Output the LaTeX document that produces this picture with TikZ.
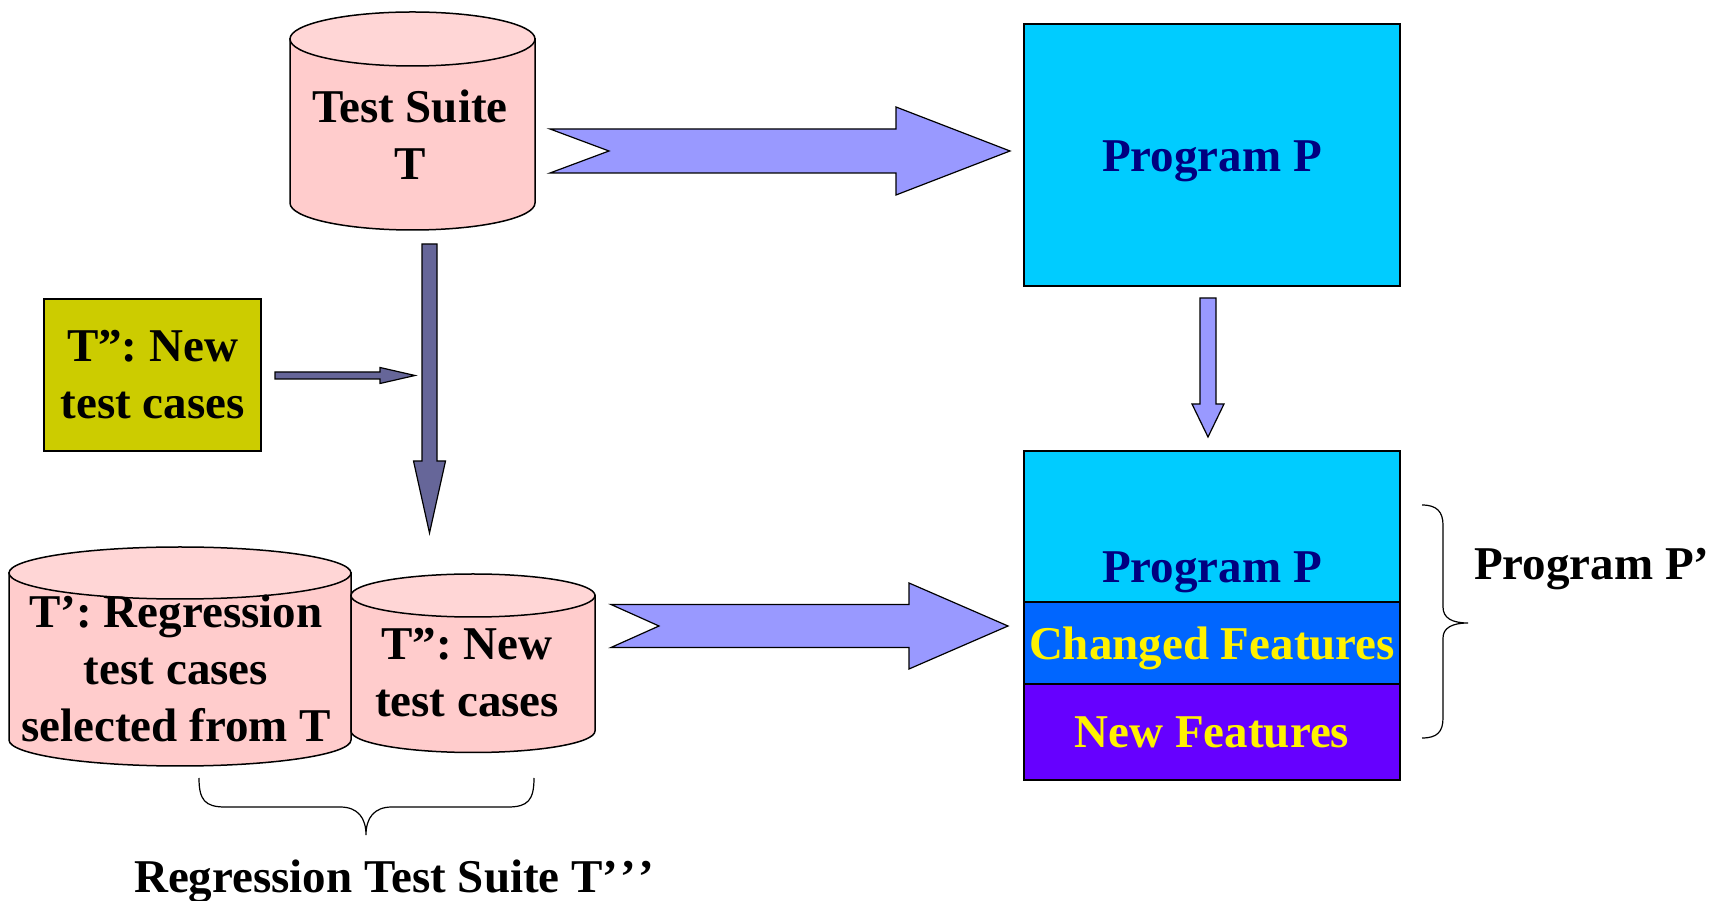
\documentclass[tikz,border=0pt]{standalone}
\usepackage{fontspec}
\setmainfont{Liberation Serif}
\usetikzlibrary{calc}

\definecolor{canbody}{HTML}{FFCCCC}
\definecolor{cantop}{HTML}{FFD6D6}
\definecolor{arrowlight}{HTML}{9999FF}
\definecolor{arrowdark}{HTML}{666699}
\definecolor{olivebox}{HTML}{CCCC00}
\definecolor{cyanP}{HTML}{00CCFF}
\definecolor{blueP}{HTML}{0066FF}
\definecolor{purpleP}{HTML}{6600FF}
\definecolor{navyP}{HTML}{000080}

% can: centre x, top y, bottom y, x radius, y radius
\newcommand{\can}[5]{%
  \filldraw[fill=canbody, line width=1.5pt] (#1-#4,#2) -- (#1-#4,#3)
    arc[start angle=180, end angle=360, x radius=#4, y radius=#5] -- (#1+#4,#2) -- cycle;
  \filldraw[fill=cantop, line width=1.5pt] (#1,#2) ellipse[x radius=#4, y radius=#5];}
% block arrow to the right: style, tail, tip, shaft, head, head length, notch
\newcommand{\hfat}[7]{%
  \draw[#1] ($(#2)+(0,#4)$) -- ($(#3)+(-#6,#4)$) -- ($(#3)+(-#6,#5)$) -- (#3)
    -- ($(#3)+(-#6,-#5)$) -- ($(#3)+(-#6,-#4)$) -- ($(#2)+(0,-#4)$) -- ($(#2)+(#7,0)$) -- cycle;}
% block arrow downwards: style, tail, tip, shaft, head, head length
\newcommand{\vfat}[6]{%
  \draw[#1] ($(#2)+(-#4,0)$) -- ($(#3)+(-#4,#6)$) -- ($(#3)+(-#5,#6)$) -- (#3)
    -- ($(#3)+(#5,#6)$) -- ($(#3)+(#4,#6)$) -- ($(#2)+(#4,0)$) -- cycle;}

\begin{document}
\begin{tikzpicture}[x=1pt, y=1pt,
    every node/.style={font=\bfseries\fontsize{47}{57}\selectfont, inner sep=0pt},
    box/.style={draw, line width=1.5pt, minimum width=376pt},
    fatarrow/.style={line width=1.2pt, fill=arrowlight},
    darkarrow/.style={line width=1.2pt, fill=arrowdark}]
  \useasboundingbox (0,0) rectangle (1714,900);

  % test suites
  \can{412.5}{861}{697}{122.5}{27}
  \node[align=center] (T) at (410,765.5) {Test Suite\\T};
  \can{180}{327}{160}{171}{26}
  \can{473}{304.5}{169}{122}{21.5}
  \node[align=center] (Tp) at (176,231.5) {T’: Regression\\test cases\\selected from T};
  \node[align=center] (Tpp) at (467,227) {T”: New\\test cases};

  \node[draw, line width=1.5pt, fill=olivebox, minimum width=217pt, minimum height=152pt,
    align=center] (Tnew) at (152.5,525) {T”: New\\test cases};

  % programs
  \node[box, fill=cyanP, minimum height=262pt, text=navyP, text height=33pt, text depth=0pt]
    (P) at (1212,745) {Program P};
  \node[box, fill=cyanP, minimum height=151pt] (P1) at (1212,373.5) {};
  \node[box, fill=blueP, minimum height=82pt] (P2) at (1212,257) {};
  \node[box, fill=purpleP, minimum height=96pt] (P3) at (1212,168) {};
  \node[anchor=base, text=navyP] (P1txt) at (1212,317) {Program P};
  \node[anchor=base, text=yellow] (P2txt) at (1212,240) {Changed Features};
  \node[anchor=base, text=yellow] (P3txt) at (1212,152) {New Features};

  % arrows
  \coordinate (a1) at (550,749);   \coordinate (b1) at (1010,749);
  \coordinate (a2) at (611,274);   \coordinate (b2) at (1008,274);
  \coordinate (a3) at (429.5,656); \coordinate (b3) at (429.5,367);
  \coordinate (a4) at (275,524.5); \coordinate (b4) at (415,524.5);
  \coordinate (a5) at (1208,602);  \coordinate (b5) at (1208,463);
  \hfat{fatarrow}{a1}{b1}{22}{44}{114}{59}
  \hfat{fatarrow}{a2}{b2}{21.5}{43}{99}{48}
  \vfat{darkarrow}{a3}{b3}{7.5}{16}{72}
  \hfat{darkarrow}{a4}{b4}{3.5}{8}{35}{0}
  \vfat{fatarrow}{a5}{b5}{8}{16}{33}

  % braces
  \draw[line width=1.2pt] (1422,395) .. controls (1437,395) and (1443,388) .. (1443,375)
    -- (1443,293) .. controls (1443,282) and (1452,277) .. (1468,277)
    .. controls (1452,277) and (1443,272) .. (1443,262)
    -- (1443,182) .. controls (1443,168) and (1437,162) .. (1422,162);
  \node[anchor=base west] (Pnew) at (1474,320) {Program P’};
  \draw[line width=1.2pt] (199,122) .. controls (199,100) and (205,93) .. (225,93)
    -- (340,93) .. controls (358,93) and (366,82) .. (366,65)
    .. controls (366,82) and (374,93) .. (392,93)
    -- (508,93) .. controls (528,93) and (534,100) .. (534,122);
  \node[anchor=base] (suite) at (394,8) {Regression Test Suite T’\kern2pt’\kern2pt’};
\end{tikzpicture}
\end{document}
